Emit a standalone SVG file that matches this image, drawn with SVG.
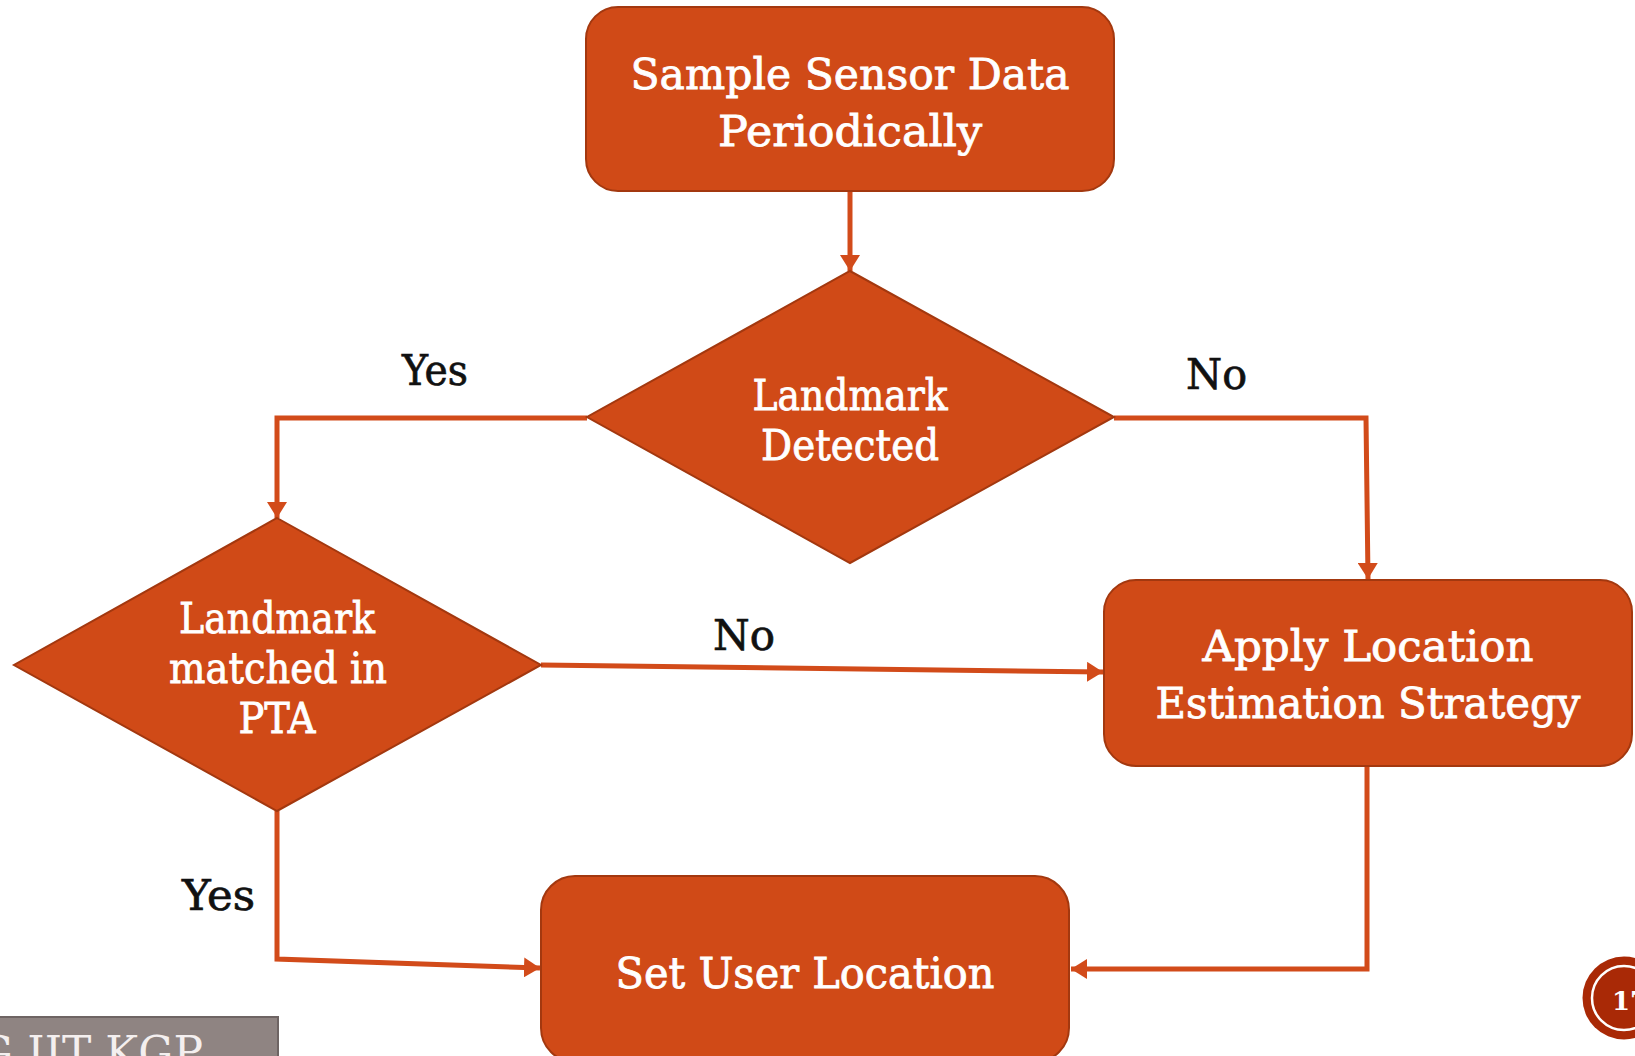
<svg xmlns="http://www.w3.org/2000/svg" width="1635" height="1056" viewBox="0 0 1635 1056">
  <style>
    .node { fill: #D04A17; stroke: #A3380F; stroke-width: 2; }
    .ntext { font-family: "DejaVu Serif", "Liberation Serif", serif; font-size: 42px; fill: #FFFFFF; stroke: #FFFFFF; stroke-width: 0.8; text-anchor: middle; }
    .label { font-family: "DejaVu Serif", "Liberation Serif", serif; font-size: 42px; fill: #111111; stroke: #111111; stroke-width: 0.7; }
    .conn { fill: none; stroke: #D24B1A; stroke-width: 5; stroke-linejoin: miter; }
  </style>
  <defs>
    <marker id="arrow" markerUnits="userSpaceOnUse" markerWidth="20" markerHeight="20" refX="16" refY="10" orient="auto">
      <path d="M0,0 L16,10 L0,20 Z" fill="#D24B1A"/>
    </marker>
  </defs>

  <rect x="0" y="0" width="1635" height="1056" fill="#FFFFFF"/>

  <!-- connectors -->
  <g id="connectors">
    <path class="conn" d="M850,191 L850,271" marker-end="url(#arrow)"/>
    <path class="conn" d="M587,418 L277,418 L277,518" marker-end="url(#arrow)"/>
    <path class="conn" d="M1114,418 L1366,418 L1368,579" marker-end="url(#arrow)"/>
    <path class="conn" d="M541,665 L1103,672" marker-end="url(#arrow)"/>
    <path class="conn" d="M277,811 L277,959 L540,968" marker-end="url(#arrow)"/>
    <path class="conn" d="M1367,766 L1367,969 L1071,969" marker-end="url(#arrow)"/>
  </g>

  <!-- branch labels -->
  <g id="labels">
    <text class="label" x="402" y="385" textLength="66" lengthAdjust="spacingAndGlyphs">Yes</text>
    <text class="label" x="1186" y="389" textLength="61" lengthAdjust="spacingAndGlyphs">No</text>
    <text class="label" x="713" y="650" textLength="62" lengthAdjust="spacingAndGlyphs">No</text>
    <text class="label" x="182" y="910" textLength="73" lengthAdjust="spacingAndGlyphs">Yes</text>
  </g>

  <g id="sample-sensor-data">
    <rect class="node" x="586" y="7" width="528" height="184" rx="32"/>
    <text class="ntext" x="850" y="89" textLength="439" lengthAdjust="spacingAndGlyphs">Sample Sensor Data</text>
    <text class="ntext" x="850" y="146" textLength="264" lengthAdjust="spacingAndGlyphs">Periodically</text>
  </g>

  <g id="landmark-detected">
    <polygon class="node" points="850,271 1114,417 850,563 587,417"/>
    <text class="ntext" x="850" y="410" textLength="195" lengthAdjust="spacingAndGlyphs">Landmark</text>
    <text class="ntext" x="850" y="460" textLength="178" lengthAdjust="spacingAndGlyphs">Detected</text>
  </g>

  <g id="landmark-matched">
    <polygon class="node" points="277,518 541,665 277,811 14,665"/>
    <text class="ntext" x="277" y="633" textLength="196" lengthAdjust="spacingAndGlyphs">Landmark</text>
    <text class="ntext" x="278" y="683" textLength="218" lengthAdjust="spacingAndGlyphs">matched in</text>
    <text class="ntext" x="277" y="733" textLength="77" lengthAdjust="spacingAndGlyphs">PTA</text>
  </g>

  <g id="apply-location-estimation">
    <rect class="node" x="1104" y="580" width="528" height="186" rx="32"/>
    <text class="ntext" x="1368" y="661" textLength="331" lengthAdjust="spacingAndGlyphs">Apply Location</text>
    <text class="ntext" x="1368" y="718" textLength="425" lengthAdjust="spacingAndGlyphs">Estimation Strategy</text>
  </g>

  <g id="set-user-location">
    <rect class="node" x="541" y="876" width="528" height="186" rx="34"/>
    <text class="ntext" x="805" y="988" textLength="379" lengthAdjust="spacingAndGlyphs">Set User Location</text>
  </g>

  <!-- footer tab, bottom left -->
  <g id="footer-tab">
    <rect x="-2" y="1017" width="280" height="45" fill="#8F8482" stroke="#6E6463" stroke-width="2"/>
    <text x="203" y="1068" font-family="DejaVu Serif, serif" font-size="44" fill="#F4EFEF" text-anchor="end">G IIT KGP</text>
  </g>

  <!-- page number badge -->
  <g id="page-number">
    <circle cx="1624" cy="998" r="41.5" fill="#A92906"/>
    <circle cx="1624" cy="998" r="32" fill="none" stroke="#FFFFFF" stroke-width="2.5"/>
    <text x="1612" y="1010" font-family="DejaVu Serif, serif" font-weight="bold" font-size="26" fill="#FFFFFF">17</text>
  </g>
</svg>
